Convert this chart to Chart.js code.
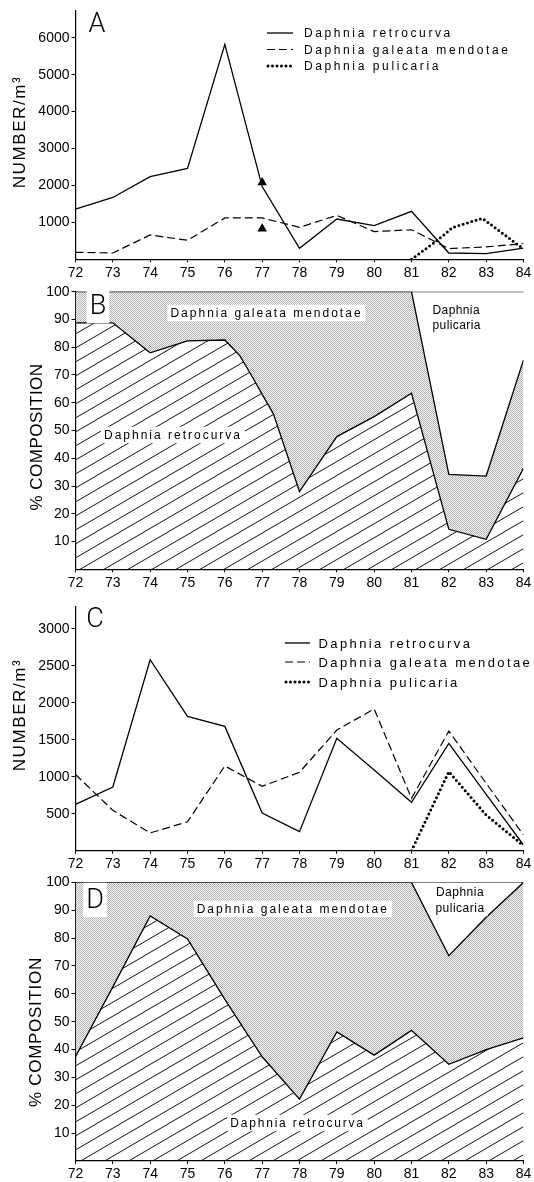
<!DOCTYPE html>
<html>
<head>
<meta charset="utf-8">
<script src="https://cdn.jsdelivr.net/npm/chart.js@4.4.1/dist/chart.umd.min.js"></script>
<style>
  body { margin: 0; background: #fff; width: 534px; height: 1182px; position: relative; overflow: hidden; }
  canvas { position: absolute; left: 0; }
</style>
</head>
<body>
<canvas id="panelA" width="534" height="280" style="top:0px"></canvas>
<canvas id="panelB" width="534" height="312" style="top:280px"></canvas>
<canvas id="panelC" width="534" height="280" style="top:592px"></canvas>
<canvas id="panelD" width="534" height="310" style="top:872px"></canvas>
<script>
// years on the x axis (1972 - 1984)
const years = [72, 73, 74, 75, 76, 77, 78, 79, 80, 81, 82, 83, 84];

// Panel A - numbers per m3
const retroA = [1360, 1675, 2240, 2460, 5820, 1970, 300, 1090, 910, 1300, 170, 155, 300];
const galeataA = [190, 170, 660, 515, 1120, 1120, 865, 1190, 750, 800, 290, 335, 425];
const pulicariaYearsA = [81, 81.7, 82.1, 82.9, 84];
const pulicariaA = [0, 520, 860, 1110, 280];
const markerYearsA = [77, 77];
const markersA = [2080, 830];
const yTicksA = [1000, 2000, 3000, 4000, 5000, 6000];

// Panel B - % composition
const retroYearsB = [72, 73, 74, 75, 76, 76.4, 76.75, 77, 77.3, 78, 79, 80, 81, 82, 83, 84];
const retroB = [88.8, 88.8, 78, 82.3, 82.6, 77, 69, 63, 56, 28, 47.8, 55, 63.4, 14.4, 10.8, 36.4];
const retroGaleataB = [100, 100, 100, 100, 100, 100, 100, 100, 100, 100, 34.2, 33.6, 75.4];
const markerYearsB = [77];
const markersB = [72.4];
const yTicksPct = [10, 20, 30, 40, 50, 60, 70, 80, 90, 100];

// Panel C - numbers per m3
const retroC = [625, 860, 2580, 1815, 1680, 510, 257, 1520, 1090, 655, 1450, 760, 77];
const galeataC = [1030, 545, 240, 390, 1145, 870, 1060, 1630, 1915, 707, 1617, 910, 212];
const pulicariaYearsC = [81, 82, 83, 84];
const pulicariaC = [0, 1068, 482, 68];
const yTicksC = [500, 1000, 1500, 2000, 2500, 3000];

// Panel D - % composition
const retroD = [37.4, 62.5, 88, 79.7, 58, 37.4, 22.2, 46.3, 38, 46.9, 34.7, 40, 44.2];
const retroGaleataD = [100, 100, 100, 100, 100, 100, 100, 100, 100, 100, 73.7, 87.5, 100];

const FONT = "'Liberation Sans', Arial, sans-serif";
const LETTER = "Roboto, 'Liberation Sans', sans-serif";

function pts(xs, ys) {
    return xs.map((x, i) => ({ x: x, y: ys[i] }));
}

function hatchPattern() {
    const c = document.createElement('canvas');
    c.width = 24; c.height = 14;
    const g = c.getContext('2d');
    g.strokeStyle = '#111';
    g.lineWidth = 1;
    for (let k = -1; k <= 1; k++) {
        g.beginPath();
        g.moveTo(-24, 28 + k * 14);
        g.lineTo(48, -14 + k * 14);
        g.stroke();
    }
    return g.createPattern(c, 'repeat');
}

function stipplePattern() {
    const c = document.createElement('canvas');
    c.width = 2; c.height = 2;
    const g = c.getContext('2d');
    g.fillStyle = '#f8f8f8';
    g.fillRect(0, 0, 2, 2);
    g.fillStyle = '#b2b2b2';
    g.fillRect(0, 0, 1, 1);
    g.fillRect(1, 1, 1, 1);
    return g.createPattern(c, 'repeat');
}

// line styles shared by series and legends
const styles = {
    solid: { borderColor: '#000', borderWidth: 1.3, borderDash: [] },
    dashed: { borderColor: '#000', borderWidth: 1.2, borderDash: [8, 4] },
    dotted: { borderColor: '#000', borderWidth: 3, borderDash: [0, 4.5], borderCapStyle: 'round' }
};

function axes(yMax, yTicks, xHeight) {
    const common = {
        grid: { drawOnChartArea: false, color: '#000', tickLength: 4, lineWidth: 1 },
        border: { color: '#000', width: 1.2 },
        ticks: { color: '#000', font: { family: FONT, size: 14 }, padding: 2, autoSkip: false, maxRotation: 0 }
    };
    return {
        x: Object.assign({}, common, {
            type: 'linear', min: 72, max: 84,
            afterBuildTicks: s => { s.ticks = years.map(v => ({ value: v })); },
            afterFit: s => { s.height = xHeight; },
            grid: Object.assign({}, common.grid, { tickLength: 3 }),
            ticks: Object.assign({}, common.ticks, { callback: v => String(v) })
        }),
        y: Object.assign({}, common, {
            type: 'linear', min: 0, max: yMax,
            afterBuildTicks: s => { s.ticks = yTicks.map(v => ({ value: v })); },
            afterFit: s => { s.width = 75.5; },
            ticks: Object.assign({}, common.ticks, { callback: v => String(v) })
        })
    };
}

// texts, legend keys and label boxes drawn over the plot
function decor(items) {
    return {
        id: 'decor',
        afterDraw(chart) {
            const ctx = chart.ctx;
            items.forEach(it => {
                ctx.save();
                if (it.line) {
                    const st = styles[it.line];
                    ctx.strokeStyle = '#000';
                    ctx.lineWidth = st.borderWidth;
                    ctx.setLineDash(st.borderDash);
                    ctx.lineCap = st.borderCapStyle || 'butt';
                    ctx.beginPath();
                    ctx.moveTo(it.x1, it.y);
                    ctx.lineTo(it.x2, it.y);
                    ctx.stroke();
                } else {
                    ctx.font = (it.weight || 'normal') + ' ' + it.size + 'px ' + (it.family || FONT);
                    ctx.letterSpacing = (it.sp || 0) + 'px';
                    ctx.textBaseline = 'middle';
                    ctx.textAlign = it.align || 'center';
                    ctx.translate(it.x, it.y);
                    if (it.rot) ctx.rotate(-Math.PI / 2);
                    if (it.box) {
                        const w = ctx.measureText(it.t).width;
                        const left = ctx.textAlign === 'left' ? 0 : -w / 2;
                        ctx.fillStyle = '#fff';
                        ctx.fillRect(left - 3, -it.size * 0.6 - 1, w + 6, it.size * 1.2 + 2);
                    }
                    ctx.fillStyle = '#000';
                    ctx.fillText(it.t, 0, 1);
                }
                ctx.restore();
            });
        }
    };
}

const base = {
    animation: false,
    responsive: false,
    plugins: { legend: { display: false }, tooltip: { enabled: false } },
    elements: { point: { radius: 0 }, line: { tension: 0 } }
};

function markerSet(xs, ys) {
    return {
        type: 'scatter', data: pts(xs, ys), pointStyle: 'triangle',
        pointRadius: 5.5, backgroundColor: '#000', borderColor: '#000', borderWidth: 0
    };
}

// ---- Panel A ----
new Chart(document.getElementById('panelA'), {
    type: 'line',
    data: {
        datasets: [
            Object.assign({ data: pts(years, retroA), fill: false }, styles.solid),
            Object.assign({ data: pts(years, galeataA), fill: false }, styles.dashed),
            Object.assign({ data: pts(pulicariaYearsA, pulicariaA), fill: false }, styles.dotted),
            markerSet(markerYearsA, markersA)
        ]
    },
    options: Object.assign({}, base, {
        layout: { padding: { top: 10, right: 10.5, left: 0, bottom: 0 } },
        scales: axes(6740, yTicksA, 20.7)
    }),
    plugins: [decor([
        { t: 'A', x: 97, y: 24, size: 27, weight: '300', family: LETTER },
        { t: 'NUMBER/m³', x: 19, y: 132, size: 17, sp: 1.6, rot: true },
        { line: 'solid', x1: 267, x2: 293, y: 33 },
        { line: 'dashed', x1: 267, x2: 293, y: 49.5 },
        { line: 'dotted', x1: 268, x2: 293, y: 66 },
        { t: 'Daphnia retrocurva', x: 304, y: 33, size: 12, sp: 2.6, align: 'left' },
        { t: 'Daphnia galeata mendotae', x: 304, y: 49.5, size: 12, sp: 2.6, align: 'left' },
        { t: 'Daphnia pulicaria', x: 304, y: 66, size: 12, sp: 2.6, align: 'left' }
    ])]
});

// ---- Panel B ----
new Chart(document.getElementById('panelB'), {
    type: 'line',
    data: {
        datasets: [
            Object.assign({ data: pts(retroYearsB, retroB), fill: 'origin', backgroundColor: hatchPattern() }, styles.solid),
            Object.assign({ data: pts(years, retroGaleataB), fill: '-1', backgroundColor: stipplePattern() }, styles.solid),
            Object.assign({ data: pts([72, 84], [100, 100]), fill: false }, styles.solid),
            markerSet(markerYearsB, markersB)
        ]
    },
    options: Object.assign({}, base, {
        layout: { padding: { top: 11.7, right: 10.5, left: 0, bottom: 0 } },
        scales: axes(100, yTicksPct, 22.7)
    }),
    plugins: [decor([
        { t: 'B', x: 98, y: 26, size: 27, box: true, weight: '300', family: LETTER },
        { t: '% COMPOSITION', x: 36, y: 157, size: 17, sp: 0.5, rot: true },
        { t: 'Daphnia galeata mendotae', x: 266.5, y: 33, size: 12, sp: 2, box: true },
        { t: 'Daphnia', x: 432.5, y: 30, size: 12, sp: 0.4, align: 'left' },
        { t: 'pulicaria', x: 432.5, y: 45, size: 12, sp: 0.4, align: 'left' },
        { t: 'Daphnia retrocurva', x: 173, y: 155, size: 12, sp: 2, box: true }
    ])]
});

// ---- Panel C ----
new Chart(document.getElementById('panelC'), {
    type: 'line',
    data: {
        datasets: [
            Object.assign({ data: pts(years, retroC), fill: false }, styles.solid),
            Object.assign({ data: pts(years, galeataC), fill: false }, styles.dashed),
            Object.assign({ data: pts(pulicariaYearsC, pulicariaC), fill: false }, styles.dotted)
        ]
    },
    options: Object.assign({}, base, {
        layout: { padding: { top: 14.7, right: 10.5, left: 0, bottom: 0 } },
        scales: axes(3297, yTicksC, 21.3)
    }),
    plugins: [decor([
        { t: 'C', x: 95, y: 27, size: 27, weight: '300', family: LETTER },
        { t: 'NUMBER/m³', x: 19, y: 123, size: 17, sp: 1.6, rot: true },
        { line: 'solid', x1: 285, x2: 310, y: 51 },
        { line: 'dashed', x1: 285, x2: 310, y: 70 },
        { line: 'dotted', x1: 286, x2: 310, y: 90 },
        { t: 'Daphnia retrocurva', x: 318.5, y: 51, size: 13, sp: 2.4, align: 'left' },
        { t: 'Daphnia galeata mendotae', x: 318.5, y: 70, size: 13, sp: 2.4, align: 'left' },
        { t: 'Daphnia pulicaria', x: 318.5, y: 90, size: 13, sp: 2.4, align: 'left' }
    ])]
});

// ---- Panel D ----
new Chart(document.getElementById('panelD'), {
    type: 'line',
    data: {
        datasets: [
            Object.assign({ data: pts(years, retroD), fill: 'origin', backgroundColor: hatchPattern() }, styles.solid),
            Object.assign({ data: pts(years, retroGaleataD), fill: '-1', backgroundColor: stipplePattern() }, styles.solid),
            Object.assign({ data: pts([72, 84], [100, 100]), fill: false }, styles.solid)
        ]
    },
    options: Object.assign({}, base, {
        layout: { padding: { top: 9.7, right: 10.5, left: 0, bottom: 0 } },
        scales: axes(100, yTicksPct, 21)
    }),
    plugins: [decor([
        { t: 'D', x: 95, y: 28, size: 27, box: true, weight: '300', family: LETTER },
        { t: '% COMPOSITION', x: 35, y: 160, size: 17, sp: 0.7, rot: true },
        { t: 'Daphnia galeata mendotae', x: 292.75, y: 37, size: 12, sp: 2, box: true },
        { t: 'Daphnia', x: 460, y: 20, size: 12, sp: 0.5, box: true },
        { t: 'pulicaria', x: 460, y: 36, size: 12, sp: 0.5, box: true },
        { t: 'Daphnia retrocurva', x: 297.5, y: 251, size: 12, sp: 1.8, box: true }
    ])]
});
</script>
</body>
</html>
